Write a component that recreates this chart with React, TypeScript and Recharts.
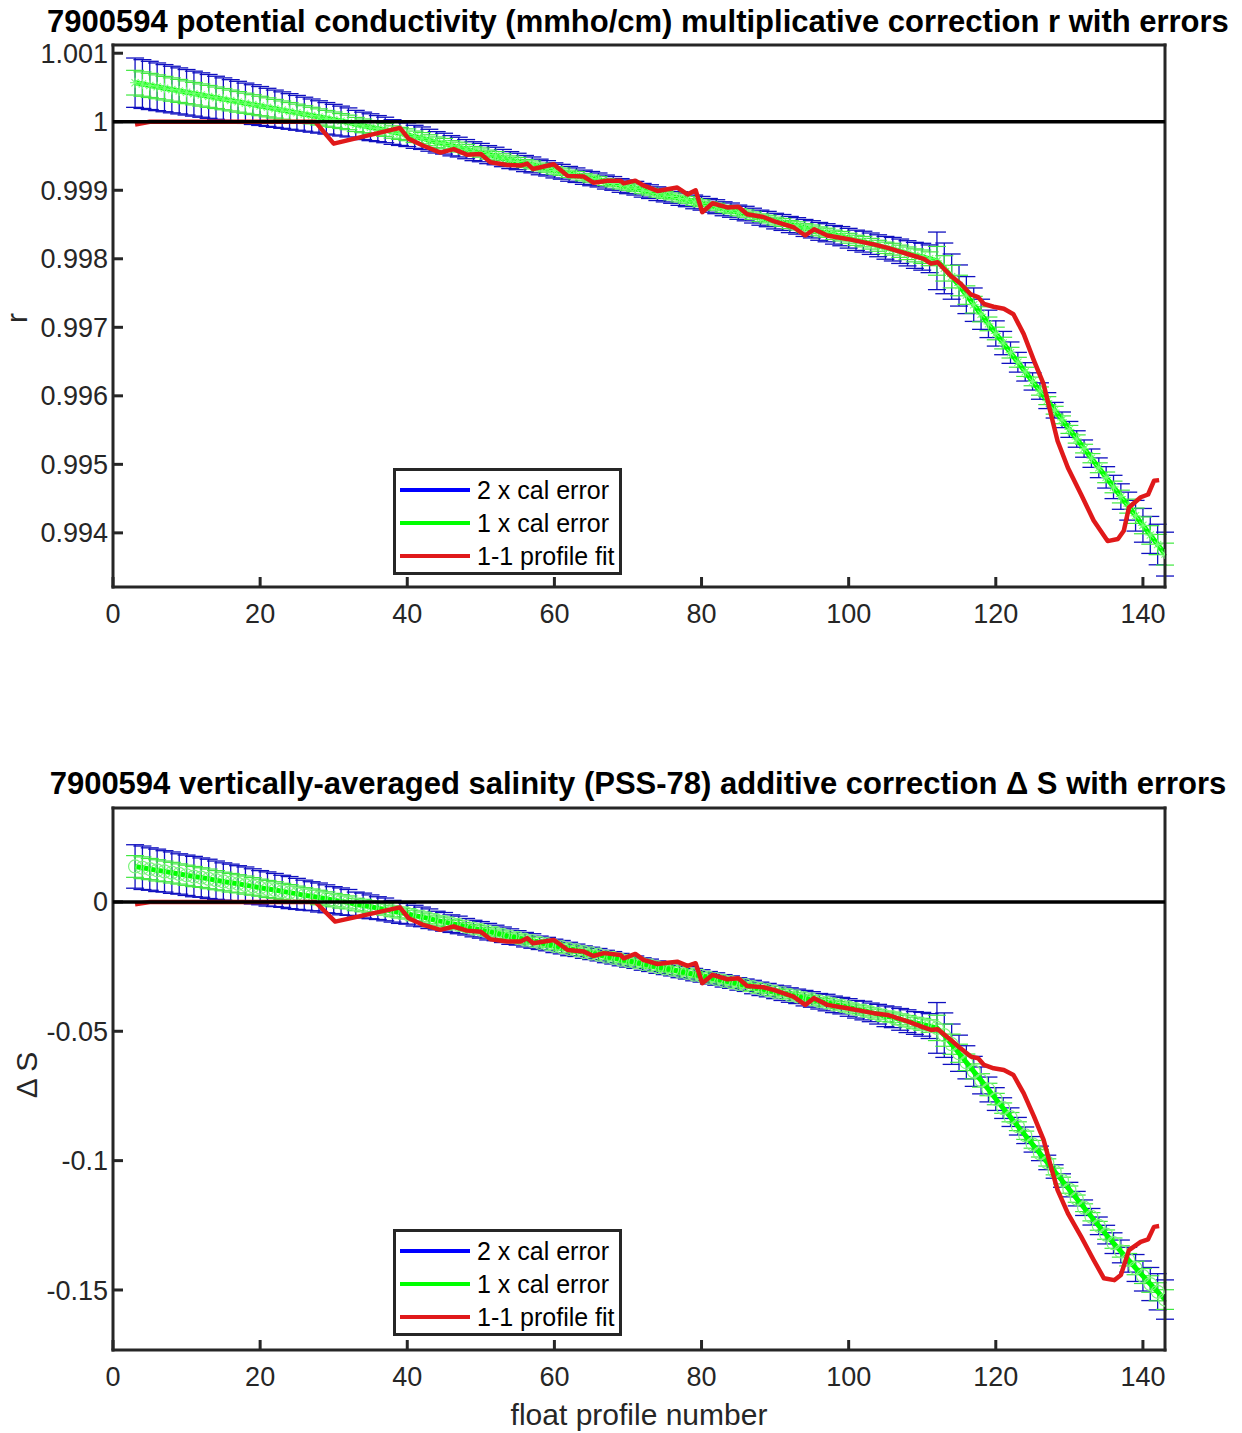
import React from 'react';
import { LineChart, Line, XAxis, YAxis, ErrorBar, ReferenceLine } from 'recharts';

const FONT = '"Liberation Sans", Arial, Helvetica, sans-serif';
const AXIS = '#262626';

// float profile numbers (categories)
const profileNumbers = [
  3, 4, 5, 6, 7, 8, 9, 10, 11, 12, 13, 14, 15, 16, 17, 18, 19, 20, 21, 22,
  23, 24, 25, 26, 27, 28, 29, 30, 31, 32, 33, 34, 35, 36, 37, 38, 39, 40, 41, 42,
  43, 44, 45, 46, 47, 48, 49, 50, 51, 52, 53, 54, 55, 56, 57, 58, 59, 60, 61, 62,
  63, 64, 65, 66, 67, 68, 69, 70, 71, 72, 73, 74, 75, 76, 77, 78, 79, 80, 81, 82,
  83, 84, 85, 86, 87, 88, 89, 90, 91, 92, 93, 94, 95, 96, 97, 98, 99, 100, 101, 102,
  103, 104, 105, 106, 107, 108, 109, 110, 111, 112, 113, 114, 115, 116, 117, 118, 119, 120, 121, 122,
  123, 124, 125, 126, 127, 128, 129, 130, 131, 132, 133, 134, 135, 136, 137, 138, 139, 140, 141, 142, 143,
];

// top panel: fitted multiplicative correction r
const rFit = [
  1.00057, 1.00055, 1.00053, 1.00051, 1.00049, 1.00047, 1.00045, 1.00043, 1.00041, 1.00039,
  1.00037, 1.00035, 1.00033, 1.00031, 1.00029, 1.00027, 1.00025, 1.00023, 1.00021, 1.00019,
  1.00017, 1.00015, 1.00013, 1.00011, 1.00009, 1.00007, 1.00005, 1.00003, 1.00001, 0.99999,
  0.99996, 0.99994, 0.99992, 0.9999, 0.99988, 0.99985, 0.99983, 0.99981, 0.99978, 0.99976,
  0.99973, 0.9997, 0.99968, 0.99965, 0.99963, 0.9996, 0.99957, 0.99955, 0.99952, 0.9995,
  0.99947, 0.99944, 0.99942, 0.99939, 0.99937, 0.99934, 0.99932, 0.99929, 0.99927, 0.99924,
  0.99922, 0.99919, 0.99917, 0.99915, 0.99912, 0.9991, 0.99907, 0.99905, 0.99903, 0.999,
  0.99898, 0.99895, 0.99893, 0.99891, 0.99888, 0.99886, 0.99883, 0.99881, 0.99878, 0.99876,
  0.99873, 0.99871, 0.99868, 0.99866, 0.99863, 0.9986, 0.99858, 0.99855, 0.99853, 0.9985,
  0.99848, 0.99845, 0.99843, 0.9984, 0.99838, 0.99835, 0.99833, 0.9983, 0.99827, 0.99825,
  0.99822, 0.99819, 0.99816, 0.99814, 0.99811, 0.99808, 0.99805, 0.99803, 0.998, 0.99797,
  0.99786, 0.99774, 0.99761, 0.99747, 0.99733, 0.99719, 0.99705, 0.99691, 0.99677, 0.99663,
  0.99649, 0.99635, 0.99621, 0.99607, 0.99593, 0.99579, 0.99565, 0.99551, 0.99537, 0.99523,
  0.99509, 0.99495, 0.99481, 0.99467, 0.99453, 0.99439, 0.99425, 0.99411, 0.99397, 0.99383, 0.99369,
];

// top panel: 1 x calibration error of r
const rErr = [
  0.00018, 0.000178, 0.000176, 0.000174, 0.000172, 0.00017, 0.000168, 0.000166, 0.000164, 0.000162,
  0.00016, 0.000157, 0.000155, 0.000152, 0.00015, 0.000147, 0.000145, 0.000142, 0.000139, 0.000136,
  0.000133, 0.00013, 0.000127, 0.000124, 0.000121, 0.000118, 0.000115, 0.000112, 0.000109, 0.000106,
  0.000103, 0.0001, 0.000098, 0.000095, 0.000093, 0.00009, 0.000088, 0.000086, 0.000084, 0.000082,
  0.00008, 0.000078, 0.000076, 0.000074, 0.000072, 0.00007, 0.000069, 0.000067, 0.000066, 0.000064,
  0.000063, 0.000062, 0.00006, 0.000059, 0.000058, 0.000057, 0.000056, 0.000055, 0.000054, 0.000054,
  0.000053, 0.000052, 0.000052, 0.000051, 0.000051, 0.00005, 0.00005, 0.00005, 0.00005, 0.00005,
  0.00005, 0.00005, 0.00005, 0.00005, 0.00005, 0.00005, 0.00005, 0.00005, 0.00005, 0.000051,
  0.000051, 0.000052, 0.000052, 0.000053, 0.000054, 0.000055, 0.000056, 0.000057, 0.000058, 0.000059,
  0.00006, 0.000062, 0.000063, 0.000065, 0.000066, 0.000068, 0.00007, 0.000072, 0.000074, 0.000076,
  0.000078, 0.00008, 0.000083, 0.000086, 0.000089, 0.000092, 0.000095, 0.000098, 0.000101, 0.00021,
  0.000185, 0.000165, 0.00015, 0.000135, 0.000122, 0.00011, 0.0001, 0.000092, 0.000085, 0.000078,
  0.000072, 0.000067, 0.000063, 0.00006, 0.000058, 0.000057, 0.000057, 0.000058, 0.00006, 0.000063,
  0.000067, 0.000072, 0.000078, 0.000085, 0.000093, 0.000102, 0.000112, 0.000123, 0.000135, 0.000148, 0.00016,
];

// top panel: 1-1 profile fit (red)
const redTopX = [
  3, 5, 10, 15, 20, 27.5, 30, 39, 40.2, 42.2, 44.5, 46.3, 48.1, 50, 51.3, 53.6, 55.4, 56.3, 57.1, 59.9,
  61.8, 64, 65.3, 67.2, 69, 69.4, 71, 72.1, 74, 76.7, 78.1, 79.2, 80.1, 81.5, 83.5, 85, 86.2, 88.4, 89.8, 92.5,
  94.1, 95.3, 97.1, 99.8, 103.4, 105.3, 108, 110.2, 111.2, 112.1, 113.9, 115.2, 116.6, 117.6, 118.4, 119.7, 121.1, 122.4, 123.8, 125.2,
  126.5, 127.5, 128.4, 129.8, 131.6, 133.3, 135.2, 136.6, 137.4, 138.1, 139.7, 140.7, 141.5, 142.2,
];
const redTopR = [
  0.99996, 1.0, 1.0, 1.0, 1.0, 1.0, 0.99968, 0.99991, 0.99975, 0.99965, 0.99955, 0.9996, 0.99952, 0.99953, 0.99941, 0.99937, 0.99936, 0.99939, 0.99931, 0.99938,
  0.99921, 0.9992, 0.99911, 0.99914, 0.99914, 0.9991, 0.99914, 0.99907, 0.99899, 0.99904, 0.99894, 0.999, 0.99868, 0.99881, 0.99875, 0.99876, 0.99865, 0.99861, 0.99855, 0.99846,
  0.99834, 0.99843, 0.99834, 0.99829, 0.99821, 0.99816, 0.99807, 0.998, 0.99793, 0.99795, 0.99775, 0.99764, 0.99748, 0.99744, 0.99734, 0.9973, 0.99727, 0.99719, 0.9969, 0.99651,
  0.99617, 0.99573, 0.99534, 0.99495, 0.99456, 0.99418, 0.99388, 0.99391, 0.99403, 0.99437, 0.99452, 0.99456, 0.99476, 0.99477,
];

// bottom panel: fitted additive salinity correction ΔS
const dsFit = [
  0.0137, 0.0132, 0.0127, 0.0122, 0.0118, 0.0113, 0.0108, 0.0103, 0.0098, 0.0094,
  0.0089, 0.0084, 0.0079, 0.0074, 0.007, 0.0065, 0.006, 0.0055, 0.005, 0.0046,
  0.0041, 0.0036, 0.0031, 0.0026, 0.0022, 0.0017, 0.0012, 0.0007, 0.0002, -0.0002,
  -0.001, -0.0014, -0.0019, -0.0024, -0.0029, -0.0036, -0.0041, -0.0046, -0.0053, -0.0058,
  -0.0065, -0.0072, -0.0077, -0.0084, -0.0089, -0.0096, -0.0103, -0.0108, -0.0115, -0.012,
  -0.0127, -0.0134, -0.0139, -0.0146, -0.0151, -0.0158, -0.0163, -0.017, -0.0175, -0.0182,
  -0.0187, -0.0194, -0.0199, -0.0204, -0.0211, -0.0216, -0.0223, -0.0228, -0.0233, -0.024,
  -0.0245, -0.0252, -0.0257, -0.0262, -0.0269, -0.0274, -0.0281, -0.0286, -0.0293, -0.0298,
  -0.0305, -0.031, -0.0317, -0.0322, -0.0329, -0.0336, -0.0341, -0.0348, -0.0353, -0.036,
  -0.0365, -0.0372, -0.0377, -0.0384, -0.0389, -0.0396, -0.0401, -0.0408, -0.0415, -0.042,
  -0.0427, -0.0434, -0.0442, -0.0446, -0.0454, -0.0461, -0.0468, -0.0473, -0.048, -0.0487,
  -0.0515, -0.055, -0.0585, -0.062, -0.0655, -0.069, -0.0725, -0.0762, -0.0797, -0.0832,
  -0.0867, -0.0902, -0.0937, -0.0972, -0.1007, -0.1042, -0.1077, -0.1112, -0.1147, -0.1182,
  -0.1217, -0.1252, -0.1286, -0.1319, -0.1351, -0.1383, -0.1415, -0.1446, -0.1477, -0.1507, -0.1537,
];

// bottom panel: 1 x calibration error of ΔS
const dsErr = [
  0.0042, 0.0042, 0.0041, 0.0041, 0.004, 0.004, 0.0039, 0.0039, 0.0039, 0.0038,
  0.0038, 0.0037, 0.0036, 0.0036, 0.0035, 0.0035, 0.0034, 0.0033, 0.0033, 0.0032,
  0.0031, 0.0031, 0.003, 0.0029, 0.0028, 0.0028, 0.0027, 0.0026, 0.0026, 0.0025,
  0.0024, 0.0024, 0.0023, 0.0022, 0.0022, 0.0021, 0.0021, 0.002, 0.002, 0.0019,
  0.0019, 0.0018, 0.0018, 0.0017, 0.0017, 0.0016, 0.0016, 0.0016, 0.0016, 0.0015,
  0.0015, 0.0015, 0.0014, 0.0014, 0.0014, 0.0013, 0.0013, 0.0013, 0.0013, 0.0013,
  0.0012, 0.0012, 0.0012, 0.0012, 0.0012, 0.0012, 0.0012, 0.0012, 0.0012, 0.0012,
  0.0012, 0.0012, 0.0012, 0.0012, 0.0012, 0.0012, 0.0012, 0.0012, 0.0012, 0.0012,
  0.0012, 0.0012, 0.0012, 0.0012, 0.0013, 0.0013, 0.0013, 0.0013, 0.0014, 0.0014,
  0.0014, 0.0015, 0.0015, 0.0015, 0.0016, 0.0016, 0.0016, 0.0017, 0.0017, 0.0018,
  0.0018, 0.0019, 0.002, 0.002, 0.0021, 0.0022, 0.0022, 0.0023, 0.0024, 0.0049,
  0.0043, 0.0039, 0.0035, 0.0032, 0.0029, 0.0026, 0.0024, 0.0022, 0.002, 0.0018,
  0.0017, 0.0016, 0.0015, 0.0014, 0.0014, 0.0013, 0.0013, 0.0014, 0.0014, 0.0015,
  0.0016, 0.0017, 0.0018, 0.002, 0.0022, 0.0024, 0.0026, 0.0029, 0.0032, 0.0035, 0.0038,
];

// bottom panel: 1-1 profile fit (red)
const redBottomX = [
  3, 5, 10, 15, 20, 27.5, 30.2, 39, 40.2, 42.2, 44.5, 46.3, 48.1, 50, 51.3, 53.6, 55.4, 56.3, 57.1, 59.9,
  61.8, 64, 65.3, 66.7, 69, 69.4, 71, 72.1, 74, 75.4, 76.7, 78.1, 79.2, 80.1, 81.5, 83.5, 85, 86.2, 88.4, 89.8,
  92.5, 94.1, 95.3, 97.1, 99.8, 103.4, 105.3, 108, 110.2, 111.2, 112.1, 113.9, 115.2, 116.6, 117.6, 118.4, 119.7, 121.1, 122.4, 123.8,
  125.2, 126.5, 127.5, 128.4, 129.8, 131.6, 133.3, 134.7, 136.1, 137, 138.1, 139.7, 140.7, 141.5, 142.2,
];
const redBottomDS = [
  -0.0009, 0, 0, 0, 0, 0, -0.0076, -0.0021, -0.0063, -0.0089, -0.0108, -0.0095, -0.0111, -0.0115, -0.0144, -0.0153, -0.0153, -0.014, -0.016, -0.0147,
  -0.0186, -0.0192, -0.0209, -0.0198, -0.0205, -0.0218, -0.0201, -0.0224, -0.024, -0.0235, -0.0231, -0.0247, -0.0237, -0.0314, -0.0282, -0.0299, -0.0295, -0.0325, -0.033, -0.034,
  -0.0366, -0.0398, -0.0372, -0.0398, -0.0411, -0.043, -0.0437, -0.0462, -0.0485, -0.0495, -0.0492, -0.0534, -0.0566, -0.0598, -0.0604, -0.063, -0.0643, -0.065, -0.0669, -0.074,
  -0.083, -0.092, -0.1024, -0.1114, -0.1204, -0.1294, -0.1384, -0.1455, -0.1462, -0.1442, -0.1346, -0.1314, -0.1304, -0.1256, -0.1253,
];

const xTicks = [0, 20, 40, 60, 80, 100, 120, 140];
const rTicks = [0.994, 0.995, 0.996, 0.997, 0.998, 0.999, 1, 1.001];
const dsTicks = [-0.15, -0.1, -0.05, 0];

const legendNames = ['2 x cal error', '1 x cal error', '1-1 profile fit'];
const legendColors = ['#0000ff', '#00ff00', '#e0191a'];

const topTitle = '7900594 potential conductivity (mmho/cm) multiplicative correction r with errors';
const bottomTitle = '7900594 vertically-averaged salinity (PSS-78) additive correction \u0394 S with errors';

function buildFit(fit: number[], err: number[]) {
  return profileNumbers.map((x, i) => ({ x, fit: fit[i], e1: err[i], e2: 2 * err[i] }));
}
function buildRed(xs: number[], ys: number[]) {
  return xs.map((x, i) => ({ x, y: ys[i] }));
}

const topData = buildFit(rFit, rErr);
const bottomData = buildFit(dsFit, dsErr);
const topRed = buildRed(redTopX, redTopR);
const bottomRed = buildRed(redBottomX, redBottomDS);

const Asterisk = (props: any) => {
  const { cx, cy, index } = props;
  if (cx == null || cy == null) return <g key={`a${index}`} />;
  const s = 5;
  const d = 3.6;
  return (
    <g key={`a${index}`} stroke="#74ff74" strokeWidth={1.1}>
      <line x1={cx - s} y1={cy} x2={cx + s} y2={cy} />
      <line x1={cx} y1={cy - s} x2={cx} y2={cy + s} />
      <line x1={cx - d} y1={cy - d} x2={cx + d} y2={cy + d} />
      <line x1={cx - d} y1={cy + d} x2={cx + d} y2={cy - d} />
    </g>
  );
};

const Circle = (props: any) => {
  const { cx, cy, index } = props;
  if (cx == null || cy == null) return <g key={`c${index}`} />;
  return <circle key={`c${index}`} cx={cx} cy={cy} r={6.5} fill="none" stroke="#7cf57c" strokeWidth={1.2} />;
};

const fmtR = (v: number) => String(+v.toFixed(3));
const fmtS = (v: number) => String(+v.toFixed(2));

type PanelProps = {
  top: number;
  height: number;
  plotTop: number;
  plotBottom: number;
  data: any[];
  red: any[];
  domain: [number, number];
  ticks: number[];
  fmt: (v: number) => string;
  refY: number;
  marker: any;
};

const PLOT_LEFT = 113;
const PLOT_RIGHT = 1165;
const W = 1242;

function Panel({ top, height, plotTop, plotBottom, data, red, domain, ticks, fmt, refY, marker }: PanelProps) {
  const axisLine = { stroke: AXIS, strokeWidth: 3, strokeLinecap: 'square' as const };
  const tickLine = { stroke: AXIS, strokeWidth: 3 };
  const tickStyle = { fill: AXIS, fontSize: 27, fontFamily: FONT };
  const bottomSpace = height - plotBottom;
  return (
    <div style={{ position: 'absolute', left: 0, top, width: W, height }}>
      {/* error-bar fits */}
      <div style={{ position: 'absolute', left: 0, top: 0 }}>
        <LineChart
          width={W}
          height={height}
          data={data}
          margin={{ top: plotTop - 1, right: W - PLOT_RIGHT - 1, bottom: bottomSpace - 40, left: PLOT_LEFT - 100 }}
        >
          <XAxis
            xAxisId="b"
            type="number"
            dataKey="x"
            domain={[0, 143]}
            ticks={xTicks}
            interval={0}
            allowDataOverflow
            height={40}
            tickSize={-10}
            tickMargin={27}
            axisLine={axisLine}
            tickLine={tickLine}
            tick={tickStyle}
          />
          <XAxis
            xAxisId="t"
            orientation="top"
            type="number"
            dataKey="x"
            domain={[0, 143]}
            ticks={xTicks}
            interval={0}
            allowDataOverflow
            height={1}
            tickSize={-10}
            axisLine={axisLine}
            tickLine={tickLine}
            tick={false}
          />
          <YAxis
            yAxisId="l"
            type="number"
            domain={domain}
            ticks={ticks}
            interval={0}
            allowDataOverflow
            width={100}
            tickSize={-10}
            tickMargin={15}
            tickFormatter={fmt}
            axisLine={axisLine}
            tickLine={tickLine}
            tick={tickStyle}
          />
          <YAxis
            yAxisId="r"
            orientation="right"
            type="number"
            domain={domain}
            ticks={ticks}
            interval={0}
            allowDataOverflow
            width={1}
            tickSize={-10}
            axisLine={axisLine}
            tickLine={tickLine}
            tick={false}
          />
          <Line
            xAxisId="b"
            yAxisId="l"
            dataKey="fit"
            stroke="#0000ff"
            strokeWidth={1}
            dot={false}
            isAnimationActive={false}
          >
            <ErrorBar dataKey="e2" width={9} stroke="#1010c0" strokeWidth={1.3} direction="y" isAnimationActive={false} />
          </Line>
          <Line
            xAxisId="b"
            yAxisId="l"
            dataKey="fit"
            stroke="#00ff00"
            strokeWidth={5}
            dot={marker}
            isAnimationActive={false}
          >
            <ErrorBar dataKey="e1" width={9} stroke="#3fe83f" strokeWidth={1.2} direction="y" isAnimationActive={false} />
          </Line>
        </LineChart>
      </div>
      {/* 1-1 profile fit and reference line, drawn on top */}
      <div style={{ position: 'absolute', left: 0, top: 0 }}>
        <LineChart
          width={W}
          height={height}
          data={red}
          margin={{ top: plotTop, right: W - PLOT_RIGHT, bottom: bottomSpace, left: PLOT_LEFT }}
        >
          <XAxis type="number" dataKey="x" domain={[0, 143]} allowDataOverflow hide />
          <YAxis type="number" domain={domain} allowDataOverflow hide />
          <Line
            dataKey="y"
            stroke="#e0191a"
            strokeWidth={4.5}
            strokeLinejoin="round"
            dot={false}
            isAnimationActive={false}
          />
          <ReferenceLine y={refY} stroke="#000000" strokeWidth={3.5} />
        </LineChart>
      </div>
    </div>
  );
}

function LegendBox({ top }: { top: number }) {
  return (
    <div
      style={{
        position: 'absolute',
        left: 393,
        top,
        width: 229,
        height: 107,
        border: `3px solid ${AXIS}`,
        boxSizing: 'border-box',
        background: '#ffffff',
        fontFamily: FONT,
        fontSize: 25,
        color: '#000000',
      }}
    >
      {legendNames.map((name, i) => (
        <div
          key={name}
          style={{
            position: 'absolute',
            left: 4,
            top: 4 + i * 33,
            height: 30,
            display: 'flex',
            alignItems: 'center',
            whiteSpace: 'nowrap',
          }}
        >
          <div style={{ width: 70, height: 4, background: legendColors[i] }} />
          <span style={{ marginLeft: 7 }}>{name}</span>
        </div>
      ))}
    </div>
  );
}

export default function App() {
  return (
    <div style={{ position: 'absolute', left: 0, top: 0, width: W, height: 1433, background: '#ffffff', overflow: 'hidden' }}>
      <Panel
        top={0}
        height={700}
        plotTop={45}
        plotBottom={587}
        data={topData}
        red={topRed}
        domain={[0.99321, 1.00112]}
        ticks={rTicks}
        fmt={fmtR}
        refY={1}
        marker={Asterisk}
      />
      <Panel
        top={716}
        height={717}
        plotTop={92}
        plotBottom={634}
        data={bottomData}
        red={bottomRed}
        domain={[-0.1732, 0.0363]}
        ticks={dsTicks}
        fmt={fmtS}
        refY={0}
        marker={Circle}
      />
      <LegendBox top={468} />
      <LegendBox top={1229} />
      <svg
        width={W}
        height={1433}
        style={{ position: 'absolute', left: 0, top: 0, pointerEvents: 'none' }}
      >
        <text x={638} y={32} textAnchor="middle" fontFamily={FONT} fontWeight="bold" fontSize={31} fill="#000">
          {topTitle}
        </text>
        <text x={638} y={794} textAnchor="middle" fontFamily={FONT} fontWeight="bold" fontSize={31} fill="#000">
          {bottomTitle}
        </text>
        <text transform="translate(27,318) rotate(-90)" textAnchor="middle" fontFamily={FONT} fontSize={30} fill={AXIS}>
          r
        </text>
        <text transform="translate(37,1075) rotate(-90)" textAnchor="middle" fontFamily={FONT} fontSize={30} fill={AXIS}>
          {'\u0394 S'}
        </text>
        <text x={639} y={1425} textAnchor="middle" fontFamily={FONT} fontSize={30} fill={AXIS}>
          float profile number
        </text>
      </svg>
    </div>
  );
}
